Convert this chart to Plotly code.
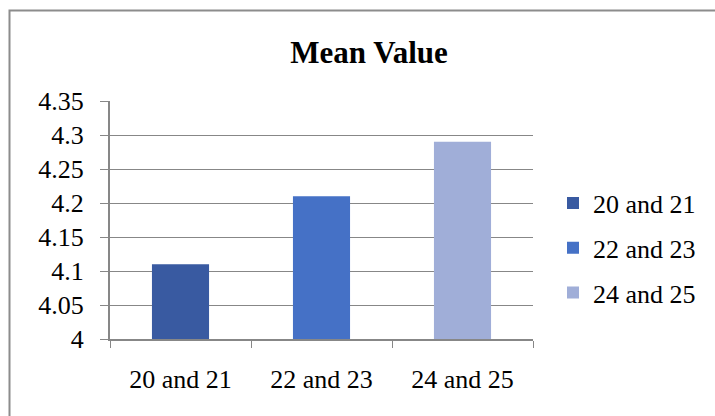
import plotly.graph_objects as go

categories = ["20 and 21", "22 and 23", "24 and 25"]
values = [4.11, 4.21, 4.29]
colors = ["#395aa1", "#4571c6", "#a0aed8"]
title_text = "Mean Value"

FONT = "Liberation Serif, Times New Roman, serif"
GRID = "#878787"

fig = go.Figure()
for i, (c, v) in enumerate(zip(categories, values)):
    fig.add_trace(go.Bar(
        x=[c], y=[v], name=c, legendgroup=c,
        marker=dict(color=colors[i], line=dict(width=0)),
        width=0.405,
    ))

fig.update_layout(
    width=715, height=416,
    margin=dict(l=110, r=182, t=101, b=77),
    paper_bgcolor="white", plot_bgcolor="white",
    barmode="overlay",
    font=dict(family=FONT, size=26, color="black"),
    title=dict(text="<b>" + title_text + "</b>", x=(369 - 110) / 423, xref="paper",
               xanchor="center", y=1 - 52 / 416, yanchor="middle",
               font=dict(family=FONT, size=31, color="black")),
    showlegend=True,
    legend=dict(x=(553 - 110) / 423, xanchor="left", y=(339 - 248) / 238, yanchor="middle",
                traceorder="grouped", tracegroupgap=8,
                font=dict(family=FONT, size=26, color="black"),
                bgcolor="rgba(0,0,0,0)", itemclick=False),
    xaxis=dict(type="category", showgrid=False, showline=True, linecolor=GRID, linewidth=2,
               ticks="outside", tickson="boundaries", ticklen=7, tickcolor=GRID, tickwidth=1,
               ticklabelstandoff=16, mirror=False),
    yaxis=dict(range=[4, 4.35], dtick=0.05, tick0=4, showgrid=True, gridcolor=GRID, gridwidth=1,
               showline=True, linecolor=GRID, linewidth=2, ticks="outside", ticklen=8,
               tickcolor=GRID, zeroline=False, ticklabelstandoff=11),
    shapes=[
        dict(type="rect", xref="paper", yref="paper",
             x0=(9.5 - 110) / 423, x1=2, y0=-1, y1=(339 - 10.5) / 238,
             line=dict(color="#8c8c8c", width=2), fillcolor="rgba(0,0,0,0)", layer="below"),
    ],
)

fig.write_html("out.html")
